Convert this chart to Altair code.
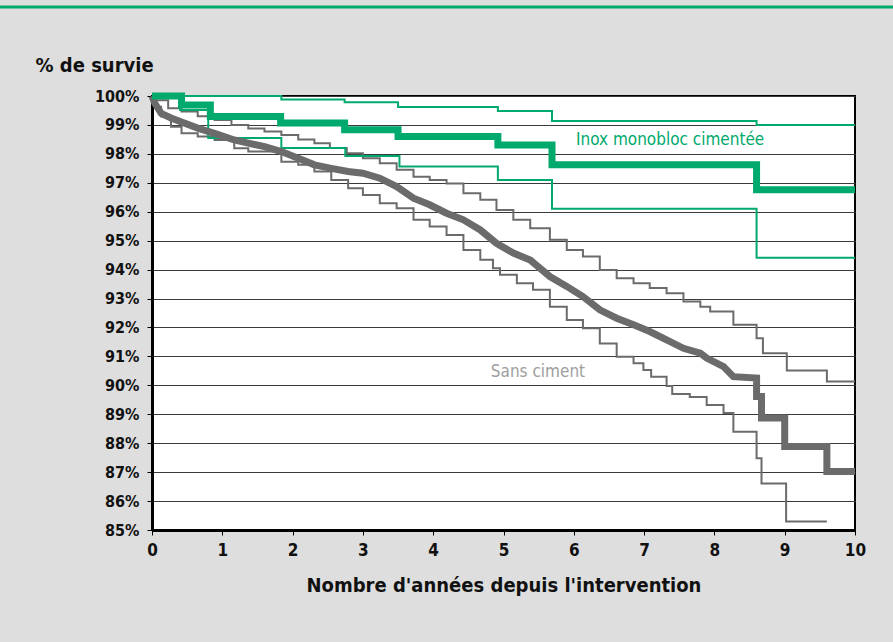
import altair as alt
import pandas as pd

# ---- data ----
green_mean_x = [0, 0.42, 0.83, 1.83, 2.74, 3.5, 4.92, 5.69, 8.6, 10]
green_mean_y = [100, 99.69, 99.29, 99.07, 98.83, 98.6, 98.31, 97.62, 96.76, 96.76]

green_up_x = [0, 1.84, 2.74, 3.5, 4.92, 5.69, 8.6, 10]
green_up_y = [100, 99.88, 99.78, 99.62, 99.48, 99.14, 99.0, 99.0]

green_lo_x = [0, 0.4, 0.8, 1.84, 2.75, 3.52, 4.92, 5.69, 8.6, 10]
green_lo_y = [100, 99.52, 98.55, 98.2, 97.93, 97.56, 97.1, 96.1, 94.41, 94.41]

# thick grey curve: traced points (jagged part, then the large late steps with their corners)
gray_mean_x = [0, 0.04, 0.13, 0.27, 0.41, 0.65, 0.89, 1.17, 1.37, 1.6, 1.84, 2.08, 2.31, 2.55,
               2.79, 3.0, 3.24, 3.48, 3.72, 3.95, 4.19, 4.43, 4.67, 4.9, 5.14, 5.38, 5.66, 5.9,
               6.13, 6.37, 6.61, 6.85, 7.08, 7.32, 7.56, 7.8, 7.89, 8.13, 8.27, 8.6, 8.6,
               8.67, 8.67, 9.0, 9.0, 9.6, 9.6, 10]
gray_mean_y = [100, 99.75, 99.4, 99.24, 99.11, 98.89, 98.71, 98.48, 98.37, 98.25, 98.08, 97.85,
               97.62, 97.5, 97.39, 97.33, 97.16, 96.87, 96.47, 96.24, 95.95, 95.72, 95.37, 94.91,
               94.57, 94.33, 93.76, 93.42, 93.07, 92.61, 92.32, 92.09, 91.86, 91.57, 91.28,
               91.11, 90.94, 90.65, 90.3, 90.25, 89.61, 89.61, 88.87, 88.87, 87.89, 87.89,
               87.02, 87.02]

gray_up_x = [0, 0.04, 0.23, 0.42, 0.65, 0.89, 1.13, 1.37, 1.6, 1.84, 2.08, 2.31, 2.53, 2.77,
             3.0, 3.24, 3.48, 3.72, 3.95, 4.19, 4.43, 4.67, 4.9, 5.14, 5.38, 5.66, 5.9, 6.13,
             6.37, 6.61, 6.85, 7.08, 7.32, 7.56, 7.8, 7.94, 8.27, 8.6, 8.69, 9.03, 9.6, 10]
gray_up_y = [100, 99.85, 99.58, 99.46, 99.3, 99.17, 99.0, 98.88, 98.77, 98.65, 98.5, 98.37,
             98.2, 98.02, 97.85, 97.68, 97.45, 97.21, 97.1, 96.98, 96.64, 96.41, 96.06, 95.72,
             95.43, 95.03, 94.68, 94.45, 93.99, 93.7, 93.53, 93.36, 93.18, 92.9, 92.72, 92.55,
             92.09, 91.63, 91.11, 90.51, 90.13, 90.13]

gray_lo_x = [0, 0.04, 0.13, 0.27, 0.42, 0.65, 0.89, 1.17, 1.37, 1.84, 2.08, 2.31, 2.55, 2.79,
             3.0, 3.24, 3.48, 3.72, 3.95, 4.19, 4.43, 4.67, 4.85, 4.95, 5.19, 5.42, 5.66, 5.9,
             6.13, 6.37, 6.61, 6.85, 6.99, 7.1, 7.32, 7.4, 7.65, 7.89, 8.13, 8.27, 8.6, 8.67,
             9.02, 9.6]
gray_lo_y = [100, 99.63, 99.29, 98.94, 98.71, 98.6, 98.48, 98.19, 98.08, 97.73, 97.62, 97.39,
             97.1, 96.81, 96.58, 96.29, 96.12, 95.72, 95.49, 95.2, 94.68, 94.34, 94.05, 93.82,
             93.53, 93.3, 92.72, 92.26, 91.97, 91.45, 90.99, 90.76, 90.53, 90.3, 89.98, 89.7,
             89.6, 89.32, 89.04, 88.4, 87.48, 86.61, 85.29, 85.29]

y_ticks = list(range(85, 101))
x_ticks = list(range(0, 11))

labels_text = ["Inox monobloc cimentée", "Sans ciment"]
labels_x = [7.37, 5.49]
labels_y = [98.48, 90.47]

GREEN = "#00a96c"
GRAY = "#6b6b6b"
FONT = "Liberation Sans Narrow, DejaVu Sans Condensed, Liberation Sans, Arial, sans-serif"

xs = alt.Scale(domain=[0, 10], nice=False)
ys = alt.Scale(domain=[85, 100], nice=False)


def curve(xv, yv, color, width, interp="step-after", axes=False):
    df = pd.DataFrame({"x": xv, "y": yv, "o": list(range(len(xv)))})
    if axes:
        xenc = alt.X("x:Q", scale=xs, axis=alt.Axis(
            values=x_ticks, tickCount=len(x_ticks), format="d",
            title="Nombre d'années depuis l'intervention",
            grid=False, domainColor="black", domainWidth=3, tickColor="black",
            tickSize=5, tickWidth=1, labelFontSize=17, labelFontWeight="bold",
            labelFont=FONT, labelColor="#111", labelPadding=7, titleFont=FONT,
            titleFontSize=20, titleFontWeight="bold", titleColor="#111",
            titlePadding=17, labelFlush=False, labelOverlap=False))
        yenc = alt.Y("y:Q", scale=ys, axis=alt.Axis(
            values=y_ticks, tickCount=len(y_ticks), labelExpr="datum.value + '%'",
            title="% de survie",
            grid=True, gridColor="#3a3a3a", gridWidth=1, domainColor="black",
            domainWidth=3, tickColor="black", tickSize=5, labelFontSize=16,
            labelFontWeight="bold", labelFont=FONT, labelColor="#111", labelPadding=8,
            labelOverlap=False, labelFlush=False,
            titleAngle=0, titleAlign="left", titleBaseline="alphabetic",
            titleX=-117, titleY=-25, titleFont=FONT, titleFontSize=20,
            titleFontWeight="bold", titleColor="#111"))
    else:
        xenc = alt.X("x:Q", scale=xs)
        yenc = alt.Y("y:Q", scale=ys)
    return alt.Chart(df).mark_line(
        interpolate=interp, color=color, strokeWidth=width, clip=False
    ).encode(x=xenc, y=yenc, order="o:Q")


layers = [
    curve(gray_up_x, gray_up_y, GRAY, 2, axes=True),
    curve(gray_lo_x, gray_lo_y, GRAY, 2),
    curve(green_up_x, green_up_y, GREEN, 2),
    curve(green_lo_x, green_lo_y, GREEN, 2),
    curve(gray_mean_x, gray_mean_y, GRAY, 7, interp="linear"),
    curve(green_mean_x, green_mean_y, GREEN, 7),
]

lab_df = pd.DataFrame({"t": labels_text, "x": labels_x, "y": labels_y,
                       "c": [GREEN, "#9e9e9e"]})
labels = alt.Chart(lab_df).mark_text(
    font=FONT, fontSize=17, fontWeight="normal", align="center", baseline="middle"
).encode(x=alt.X("x:Q", scale=xs), y=alt.Y("y:Q", scale=ys),
         text="t:N", color=alt.Color("c:N", scale=None))

top_rule = alt.Chart(pd.DataFrame({"a": [0]})).mark_rule(
    color=GREEN, strokeWidth=3, clip=False
).encode(x=alt.value(-152), x2=alt.value(741), y=alt.value(-89))

chart = alt.layer(*layers, labels, top_rule).properties(
    width=703, height=434,
    autosize=alt.AutoSizeParams(type="none"),
    padding={"left": 152, "top": 96, "right": 38, "bottom": 112},
    background="#dedede",
).configure_view(fill="white", stroke="black", strokeWidth=2)

chart.save("out.html", embed_options={"renderer": "svg", "actions": False})
